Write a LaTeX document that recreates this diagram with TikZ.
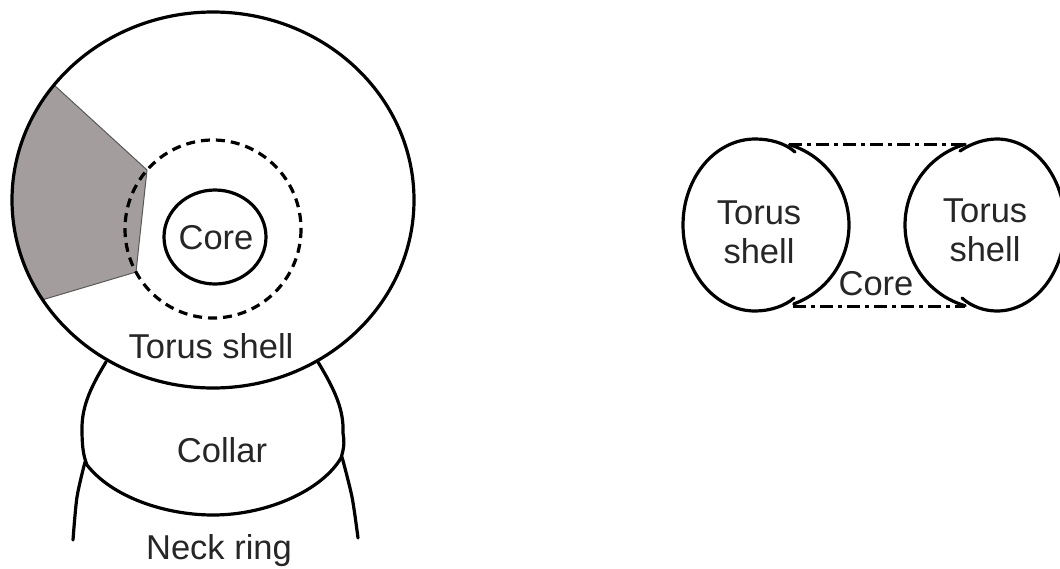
\documentclass[tikz,border=0pt]{standalone}
\usepackage{fontspec}
\setmainfont{Liberation Sans}
\usepackage{xcolor}
\usetikzlibrary{positioning}
\definecolor{sectorgray}{HTML}{A49D9D}

\begin{document}
\begin{tikzpicture}[
  x=1pt, y=-1pt,
  outline/.style={draw=black, line width=3.2pt, line cap=round},
  dashring/.style={draw=black, line width=3.2pt, dash pattern=on 9pt off 6pt},
  coreline/.style={draw=black, line width=3pt, dash pattern=on 13pt off 5pt on 4pt off 5pt},
  label/.style={font=\fontsize{34.5}{39}\selectfont, inner sep=0pt, align=center, text=black!85}
]
  \useasboundingbox (0,0) rectangle (1060,568);

  % left: section through the torus
  \begin{scope}
    \clip (213,200) ellipse [x radius=201, y radius=188];
    \fill[sectorgray] (30,63) -- (147,170) -- (136,272) -- (15,308) -- (-5,200) -- cycle;
    \draw[black!65, line width=1pt] (30,63) -- (147,170) -- (136,272) -- (15,308);
  \end{scope}
  \draw[outline] (213,200) ellipse [x radius=201, y radius=188];
  \draw[dashring] (213,229) ellipse [x radius=88, y radius=89];
  \draw[outline] (215,237) ellipse [x radius=51, y radius=47];

  % collar and neck ring
  \draw[outline] (106,362) .. controls (92,385) and (82,405) .. (82,428)
    .. controls (82,445) and (83,455) .. (87,465)
    .. controls (112,497) and (165,515) .. (213,515)
    .. controls (268,515) and (322,490) .. (341,458)
    .. controls (345,445) and (344,440) .. (343,433)
    .. controls (344,410) and (335,390) .. (318,362);
  \draw[outline] plot[smooth] coordinates {(85,462) (77,497) (73,540)};
  \draw[outline] plot[smooth] coordinates {(342,457) (352,497) (358,538)};

  % right: cut through the two shells
  \draw[outline] (795,152) .. controls (785,143) and (770,139) .. (755,139)
    -- plot[domain=-90:-270, samples=60] ({755+72*cos(\x)},{225+86*sin(\x)})
    .. controls (770,311) and (785,306) .. (794,298);
  \draw[outline] plot[domain=-73:70, samples=50] ({765+84*cos(\x)},{225+84*sin(\x)});
  \draw[outline] (960,151) .. controls (972,143) and (985,139) .. (997,139)
    -- plot[domain=-90:90, samples=60] ({997+68*cos(\x)},{225+86*sin(\x)})
    .. controls (985,311) and (972,307) .. (962,298);
  \draw[outline] plot[domain=-106:-254, samples=50] ({988+83*cos(\x)},{225+84*sin(\x)});
  \coordinate (topa) at (789,144);
  \coordinate (topb) at (965,144);
  \coordinate (bota) at (793,306);
  \coordinate (botb) at (965,306);
  \draw[coreline] (topa) -- (topb);
  \draw[coreline] (bota) -- (botb);

  \node[label] (core) at (216,238) {Core};
  \node[label, anchor=base] (torus) at (211,358) {Torus shell};
  \node[label, anchor=base] (collar) at (222,462) {Collar};
  \node[label, anchor=base] (neck) at (219,559) {Neck ring};
  \node[label] (shella) at (759,232) {Torus\\shell};
  \node[label] (shellb) at (985,230) {Torus\\shell};
  \node[label, anchor=base] (corer) at (876,295) {Core};
\end{tikzpicture}
\end{document}
